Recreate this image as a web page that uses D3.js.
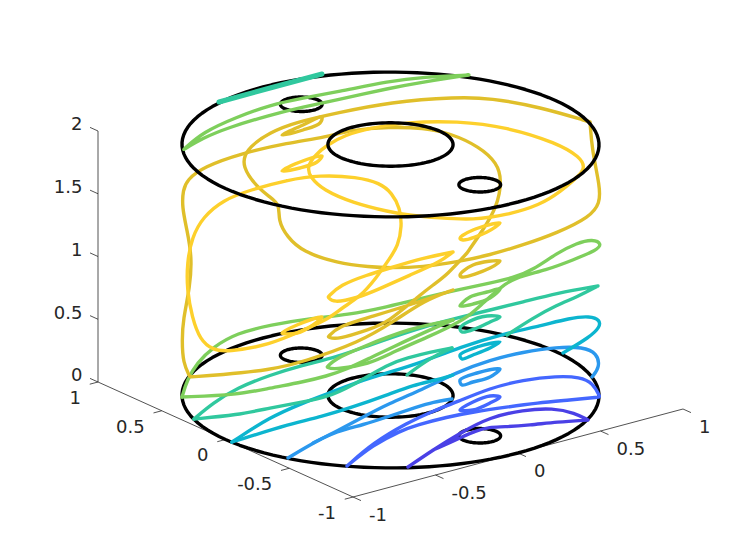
<!DOCTYPE html>
<html><head><meta charset="utf-8">
<script src="https://cdn.jsdelivr.net/npm/d3@7"></script>
<style>html,body{margin:0;background:#fff}svg{display:block}text{font-family:"DejaVu Sans";font-size:18px;fill:#262626}</style>
</head><body><svg id="c" width="756" height="560"></svg>
<script>
// Axis ticks
const xTicks=[-1,-0.5,0,0.5,1];
const yTicks=[-1,-0.5,0,0.5,1];
const zTicks=[0,0.5,1,1.5,2];
const tickLabels=t=>String(t);
// Boundary circles of the solid: [x centre, y centre, radius]
const circles=[[0,0,1],[0,0,0.3],[0,0.7,0.1],[0,-0.7,0.1]];
const circleLevels=[0,2];
// Contour level colours
const c1="#4a40e6",c2="#4467ff",c3="#2b98ee",c4="#0cb5cf",c5="#30c89e",c6="#7ecf5c",c7="#e0bf2a",c8="#fdd02c";
// Contours read in view coordinates [across, up]; a repeated point marks a sharp tip
const indigo=[[.09,-.71],[.09,-.71],[.215,-.54],[.35,-.37],[.5,-.21],[.665,-.14],[.815,-.12],[.925,-.17],[.99,-.24],[.99,-.24],[.99,-.24],[.835,-.26],[.7,-.29],[.565,-.31],[.5,-.31],[.425,-.35],[.36,-.41],[.215,-.54]];
const blueA=[[-.215,-.70],[-.215,-.70],[-.085,-.47],[.085,-.27],[.215,-.15],[.335,-.06],[.5,.08],[.665,.16],[.835,.20],[.95,.19],[1.015,.13],[1.05,-.01],[1.05,-.01],[.9,-.04],[.735,-.07],[.585,-.11],[.415,-.16],[.285,-.21],[.135,-.29],[.05,-.35],[-.085,-.49],[-.215,-.70]];
const blueLens=[[.35,-.14],[.415,-.06],[.5,0],[.55,-.01],[.5,-.07],[.415,-.14]];
const skyA=[[-.51,-.62],[-.51,-.62],[-.385,-.47],[-.265,-.35],[-.135,-.21],[0,-.07],[.135,.04],[.335,.24],[.5,.36],[.665,.44],[.835,.49],[.965,.49],[1.035,.43],[1.05,.29],[1.01,.19],[1.01,.19]];
const skyB=[[-.385,-.47],[-.265,-.35],[-.135,-.29],[0,-.20],[.135,-.11],[.215,-.06],[.31,-.03],[.31,-.03]];
const skyLens=[[.35,.16],[.435,.23],[.55,.27],[.5,.19],[.415,.14],[.36,.11]];
const cyanA=[[-.79,-.46],[-.79,-.46],[-.6,-.21],[-.435,-.07],[-.315,.02],[-.165,.14],[0,.24],[.15,.33],[.35,.49],[.585,.63],[.75,.70],[.9,.78],[1,.80],[1.05,.76],[1.05,.69],[1,.59],[.865,.43],[.865,.43]];
const cyanB=[[-.79,-.46],[-.79,-.46],[-.485,-.27],[-.35,-.21],[-.185,-.11],[-.015,.01],[.115,.11],[.235,.16],[.315,.21],[.315,.21]];
const cyanLens=[[.35,.41],[.435,.49],[.55,.54],[.5,.48],[.415,.41],[.36,.37]];
const tealA=[[-.98,-.23],[-.98,-.23],[-.885,-.07],[-.765,.08],[-.6,.21],[-.435,.31],[-.265,.39],[-.1,.51],[0,.58],[.165,.69],[.335,.78],[.5,.86],[.665,.94],[.835,1.03],[1.04,1.10],[1.04,1.10],[1.04,1.10],[.935,.99],[.835,.91],[.715,.78],[.585,.61],[.585,.61]];
const tealB=[[-.98,-.23],[-.98,-.23],[-.765,-.19],[-.6,-.12],[-.435,-.06],[-.315,-.01],[-.2,.09],[0,.33],[.085,.38],[.2,.44],[.31,.48],[.31,.48]];
const tealC=[[.085,.21],[.085,.21],[.2,.38],[.31,.48],[.31,.48]];
const tealLens=[[.35,.68],[.39,.74],[.485,.80],[.55,.79],[.5,.74],[.435,.68],[.36,.64]];
const greenA=[[-1.04,-.01],[-1.04,-.01],[-1.015,.16],[-.965,.33],[-.885,.49],[-.765,.63],[-.6,.71],[-.385,.78],[-.215,.81],[-.015,.89],[.165,.98],[.335,1.06],[.5,1.13],[.615,1.18],[.715,1.26],[.835,1.43],[.935,1.53],[1.015,1.57],[1.06,1.52],[1.035,1.46],[.915,1.36],[.785,1.26],[.615,1.18],[.55,1.08],[.465,.93],[.385,.78],[.285,.68],[.2,.60],[.015,.44],[-.1,.32],[-.285,.26],[-.315,.29],[-.315,.29],[-.275,.37],[-.15,.48],[.1,.68],[.315,.76],[.315,.76]];
const greenB=[[-1.04,-.01],[-1.04,-.01],[-.765,.01],[-.6,.08],[-.435,.14],[-.315,.20],[-.225,.26],[-.1,.38],[.015,.49],[.165,.63],[.315,.76],[.315,.76]];
const greenLens=[[.35,.90],[.4,.99],[.485,1.04],[.55,1.07],[.5,.98],[.415,.92]];
const ochreLoop=[[1,2.74],[1,2.74],[1,2.74],[.75,2.89],[.5,2.98],[.335,2.99],[0,2.94],[-.265,2.83],[-.465,2.74],[-.6,2.64],[-.725,2.46],[-.74,2.29],[-.665,2.09],[-.6,1.99],[-.55,1.91],[-.56,1.76],[-.515,1.59],[-.435,1.44],[-.265,1.33],[-.1,1.29],[0,1.28],[.165,1.29],[.335,1.34],[.5,1.41],[.665,1.51],[.835,1.63],[1,1.79],[1.05,1.93],[1.05,2.09],[1.01,2.46]];
const ochrePath=[[.385,1.43],[.285,1.21],[.215,1.11],[.15,1.01],[-.015,.73],[-.1,.67],[-.265,.56],[-.31,.59],[-.31,.59],[-.265,.69],[-.1,.79],[.1,.91],[.315,1.06],[.315,1.06],[.315,1.06],[.175,.96],[.015,.74],[-.15,.54],[-.435,.34],[-.6,.26],[-.85,.21],[-1,.19],[-1,.19],[-1.035,.33],[-1.04,.56],[-1.035,.76],[-1,1.09],[-.99,1.39],[-1.015,1.66],[-1.04,1.89],[-1.035,2.06],[-1.015,2.16],[-.935,2.29],[-.735,2.43],[-.515,2.53],[-.315,2.59],[-.2,2.66],[0,2.69],[.165,2.68],[.3,2.63],[.45,2.49],[.535,2.33],[.56,2.16],[.535,1.89],[.465,1.66],[.385,1.43]];
const ochreLensTop=[[-.54,2.61],[-.435,2.71],[-.34,2.79],[-.35,2.73],[-.435,2.66]];
const ochreLensRight=[[.35,1.21],[.415,1.31],[.55,1.35],[.5,1.28],[.36,1.19]];
const yellowMain=[[-.7,2.06],[-.515,2.16],[-.35,2.21],[-.165,2.19],[-.05,2.13],[.01,2.03],[.05,1.88],[.06,1.7],[.04,1.5],[0,1.38],[-.065,1.19],[-.15,.99],[-.235,.89],[-.315,.76],[-.435,.66],[-.6,.51],[-.815,.44],[-.885,.46],[-.95,.56],[-.99,.79],[-1.015,1.06],[-1.015,1.33],[-.99,1.59],[-.935,1.79],[-.835,1.96]];
const yellowLensBig=[[.315,1.44],[.315,1.44],[.315,1.44],[.165,1.38],[0,1.28],[-.115,1.21],[-.25,1.11],[-.31,.99],[-.31,.99],[-.285,.93],[-.165,.98],[-.065,1.06],[.1,1.21],[.25,1.34]];
const yellowLensLow=[[-.54,.63],[-.465,.71],[-.34,.79],[-.385,.71],[-.465,.63]];
const yellowUpper=[[.085,2.74],[.335,2.75],[.585,2.69],[.835,2.53],[.95,2.39],[.975,2.29],[.95,2.21],[.85,2.04],[.75,1.91],[.585,1.81],[.415,1.76],[.25,1.78],[.085,1.81],[0,1.84],[-.185,1.93],[-.335,2.06],[-.4,2.19],[-.415,2.29],[-.375,2.41],[-.315,2.51],[-.225,2.61],[-.1,2.68]];
const yellowLensTop=[[-.54,2.25],[-.45,2.34],[-.34,2.40],[-.365,2.34],[-.45,2.28]];
const yellowLensRight=[[.35,1.58],[.415,1.66],[.55,1.73],[.485,1.64],[.365,1.56]];
const topGreen=[[-1.035,2.46],[-1.035,2.46],[-.935,2.64],[-.765,2.79],[-.6,2.91],[-.435,2.98],[-.265,3.04],[0,3.15],[.165,3.19],[.395,3.21],[.395,3.21],[.395,3.21],[.165,3.14],[0,3.08],[-.265,2.96],[-.435,2.89],[-.6,2.81],[-.815,2.68],[-.935,2.58]];
const topTeal=[[-.855,2.94],[-.6,3.08],[-.34,3.22]];

const svg=d3.select("#c");
const su=d3.scaleLinear().domain([-1,1]).range([190,590]);
const sv=d3.scaleLinear().domain([0,1]).range([396,296]);
// Orthographic view of the 3-D axes
const view=(x,y,z)=>[0.825*x-0.6375*y+0.0025, 0.44*x+0.575*y+1.255*z+0.005];
const px=(x,y,z)=>{const v=view(x,y,z);return [su(v[0]),sv(v[1])];};
const mk=c=>d3.line().x(d=>su(d[0])).y(d=>sv(d[1])).curve(c);
const open=mk(d3.curveBasis),closed=mk(d3.curveBasisClosed),lens=mk(d3.curveCatmullRomClosed.alpha(0.5));
const straight=d3.line();
const stroke=(g,path,col,w)=>g.append("path").attr("d",path).attr("fill","none").attr("stroke",col).attr("stroke-width",w).attr("stroke-linejoin","round").attr("stroke-linecap","round");

// axes
const ax=svg.append("g");
const axCol="#262626";
const seg=(a,b)=>stroke(ax,straight([a,b]),axCol,0.8).attr("stroke-linecap","butt");
seg(px(-1,-1,0),px(1,-1,0));
seg(px(-1,-1,0),px(-1,1,0));
seg(px(-1,1,0),px(-1,1,2));
xTicks.forEach(t=>{const a=px(t,-1,0);seg(a,px(t,-1.0625,0));
  ax.append("text").attr("x",a[0]+16).attr("y",a[1]+18).attr("dy","0.36em").attr("text-anchor","start").text(tickLabels(t));});
yTicks.forEach(t=>{const a=px(-1,t,0);seg(a,px(-1.05,t,0));
  ax.append("text").attr("x",a[0]-17).attr("y",a[1]+15.5).attr("dy","0.36em").attr("text-anchor","end").text(tickLabels(t));});
zTicks.forEach(t=>{const a=px(-1,1,t);seg(a,px(-1,1.0625,t));
  ax.append("text").attr("x",82.5).attr("y",a[1]-7).attr("dy","0.36em").attr("text-anchor","end").text(tickLabels(t));});

const angles=d3.range(0,361,3).map(d=>d*Math.PI/180);
const ring=(c,z)=>straight(angles.map(a=>px(c[0]+c[2]*Math.cos(a),c[1]+c[2]*Math.sin(a),z)));
const plot=svg.append("g");
const B=3.4,W=3.4;
circles.forEach(c=>stroke(plot,ring(c,circleLevels[0]),"#000",B));

const lines=[
 [c1,[indigo],[],[]],
 [c2,[blueA],[],[blueLens]],
 [c3,[skyA,skyB],[],[skyLens]],
 [c4,[cyanA,cyanB],[],[cyanLens]],
 [c5,[tealA,tealB,tealC],[],[tealLens]],
 [c6,[greenA,greenB],[],[greenLens]],
 [c7,[ochrePath],[ochreLoop],[ochreLensTop,ochreLensRight]],
 [c8,[],[yellowMain,yellowLensBig,yellowUpper],[yellowLensLow,yellowLensTop,yellowLensRight]]
];
lines.forEach(([col,op,cl,le])=>{
  op.forEach(d=>stroke(plot,open(d),col,W));
  cl.forEach(d=>stroke(plot,closed(d),col,W));
  le.forEach(d=>stroke(plot,lens(d),col,W));
});
circles.forEach(c=>stroke(plot,ring(c,circleLevels[1]),"#000",B));
stroke(plot,closed(topGreen),c6,W);
stroke(plot,mk(d3.curveLinear)(topTeal),c5,5);
</script></body></html>
